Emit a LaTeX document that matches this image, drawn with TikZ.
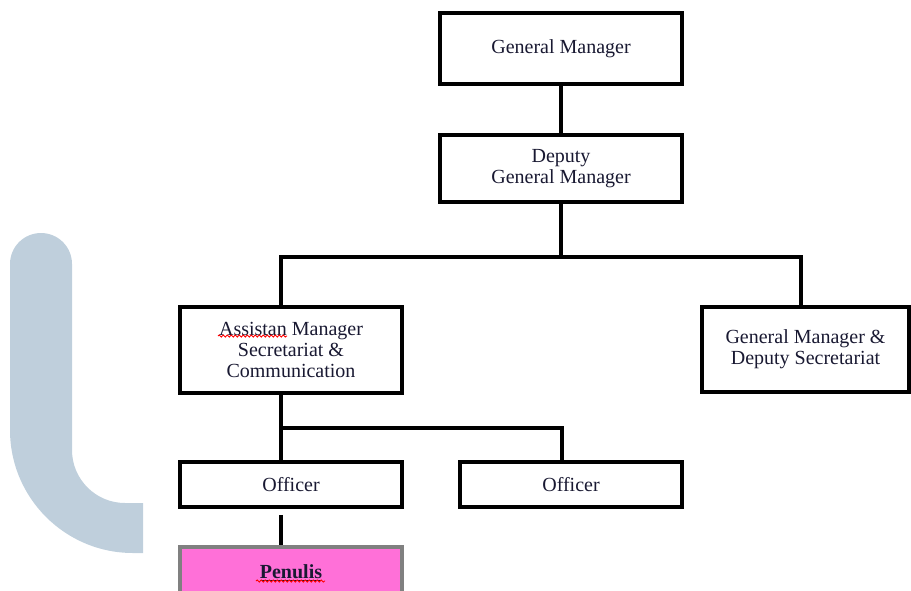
\documentclass[tikz,border=0pt]{standalone}
\usepackage{fontspec}
\setmainfont{Liberation Serif}
\usetikzlibrary{calc,decorations.pathmorphing}
\definecolor{wmark}{RGB}{191,207,220}
\definecolor{pinkfill}{RGB}{255,112,216}
\definecolor{labelc}{RGB}{25,25,50}
\tikzset{
unit/.style={draw=black, line width=2.8pt, fill=white, align=center, inner sep=0pt, text=labelc, font=\fontsize{15}{15.75}\selectfont},
link/.style={line width=2.8pt}
}
\newcommand{\unitbox}[6]{%
\node[unit, minimum width=#4*0.75pt, minimum height=#5*0.75pt] (#1) at (#2,#3) {#6};
}
\newcommand{\spellmark}[3]{%
\draw[red, line width=0.7pt, decorate, decoration={snake, amplitude=0.8pt, segment length=3pt}] (#1,#3) -- (#2,#3);
}

\begin{document}
\begin{tikzpicture}[x=0.75pt, y=-0.75pt]

\useasboundingbox (0,0) rectangle (911,590);

\fill[wmark] (10,264) arc[start angle=180, end angle=360, radius=31] -- (72,450) arc[start angle=180, end angle=90, radius=53] -- (143,503) -- (143,553) -- (133,553) arc[start angle=90, end angle=180, radius=123] -- cycle;


\unitbox{gm}{561}{48.5}{242}{71}{General Manager}
\unitbox{dep}{561}{168.5}{242}{67}{Deputy\\General Manager}

\unitbox{asst}{291}{350}{222}{86}{Assistan Manager\\Secretariat \&\\Communication}
\unitbox{gmds}{805.5}{349.5}{207}{85}{General Manager \&\\Deputy Secretariat}

\unitbox{offA}{291}{484.5}{222}{45}{Officer}
\unitbox{offB}{571}{484.5}{222}{45}{Officer}

\node[unit, draw=gray, fill=pinkfill, minimum width=222*0.75pt, minimum height=52*0.75pt] (pen) at (291,573) {\textbf{\underline{Penulis}}};


\coordinate (jA) at (281,257);
\coordinate (jB) at (801,257);
\coordinate (jC) at (281,428);
\coordinate (jD) at (562,428);

\draw[link] (gm.south) -- (dep.north);
\draw[link] (dep.south) -- (dep.south |- jA);
\draw[link] (jA |- asst.north) -- (jA) -- (jB) -- (jB |- gmds.north);

\draw[link] (jC |- asst.south) -- (jC |- offA.north);
\draw[link] (jC) -- (jD) -- (jD |- offB.north);
\draw[link, shorten <=4.5pt] (jC |- offA.south) -- (jC |- pen.north);


\spellmark{218}{287}{336}
\spellmark{256}{325}{581}

\end{tikzpicture}
\end{document}
